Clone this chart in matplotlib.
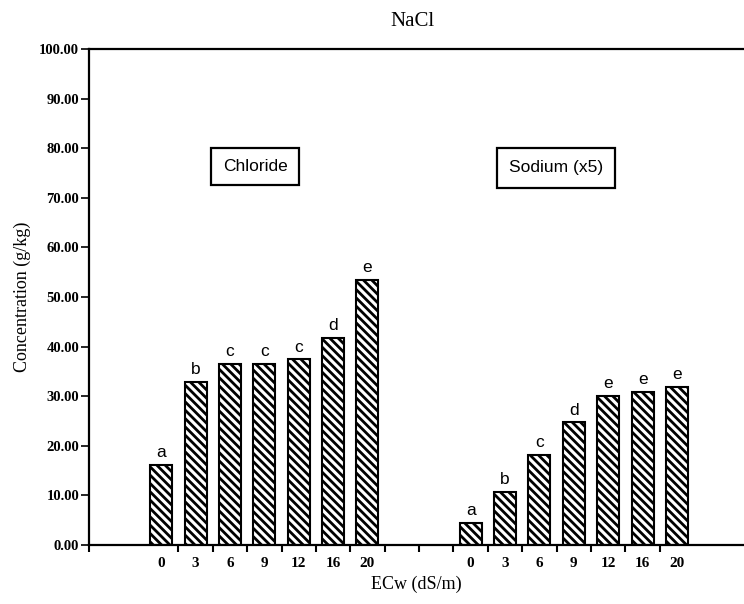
import numpy as np
import matplotlib.pyplot as plt

plt.rcParams['hatch.linewidth'] = 2.0

ecw = ['0', '3', '6', '9', '12', '16', '20']
chloride = [16.2, 32.8, 36.4, 36.4, 37.4, 41.8, 53.4]
chloride_grp = ['a', 'b', 'c', 'c', 'c', 'd', 'e']
sodium = [4.5, 10.6, 18.2, 24.7, 30.0, 30.9, 31.8]
sodium_grp = ['a', 'b', 'c', 'd', 'e', 'e', 'e']
yticks = [0, 10, 20, 30, 40, 50, 60, 70, 80, 90, 100]

x_cl = np.arange(len(ecw)) + 2.1
x_na = np.arange(len(ecw)) + 11.1

fig = plt.figure(figsize=(7.44, 6.04), dpi=100)
ax = fig.add_axes([0.1196, 0.0977, 0.8804, 0.8213])

ax.bar(x_cl, chloride, width=0.64, color='white', edgecolor='black',
       hatch='\\\\\\\\', linewidth=1.5)
ax.bar(x_na, sodium, width=0.64, color='white', edgecolor='black',
       hatch='\\\\\\\\', linewidth=1.5)

for x, v, g in zip(x_cl, chloride, chloride_grp):
    ax.text(x, v + 1.0, g, ha='center', va='bottom', fontsize=12.5,
            family='Liberation Sans')
for x, v, g in zip(x_na, sodium, sodium_grp):
    ax.text(x, v + 1.0, g, ha='center', va='bottom', fontsize=12.5,
            family='Liberation Sans')

ax.text(4.83, 76.3, 'Chloride', ha='center', va='center', fontsize=12.5,
        family='Liberation Sans',
        bbox=dict(boxstyle='square,pad=0.65', fc='white', ec='black', lw=1.6))
ax.text(13.58, 76.0, 'Sodium (x5)', ha='center', va='center', fontsize=12.5,
        family='Liberation Sans',
        bbox=dict(boxstyle='square,pad=0.7', fc='white', ec='black', lw=1.6))

ax.set_xlim(0, 19.05)
ax.set_ylim(0, 100)
ax.set_yticks(yticks)
ax.set_yticklabels(['%.2f' % t for t in yticks], fontsize=10.5,
                   family='Liberation Serif', fontweight='bold')

ax.set_xticks(np.concatenate([x_cl, x_na]))
ax.set_xticklabels(ecw + ecw, fontsize=11, family='Liberation Serif',
                   fontweight='bold')
ax.tick_params(axis='x', which='major', length=0, pad=9)
ax.set_xticks(np.concatenate([[0], x_cl + 0.5, [x_na[0] - 1.5], x_na - 0.5]),
              minor=True)
ax.tick_params(axis='x', which='minor', length=5, width=1.5, direction='out')
ax.tick_params(axis='y', length=6, width=1.2, direction='out', pad=1)

for s in ['left', 'bottom', 'top']:
    ax.spines[s].set_linewidth(1.6)
ax.spines['right'].set_visible(False)

ax.set_ylabel('Concentration (g/kg)', fontsize=13, family='Liberation Serif',
              labelpad=6)
ax.set_xlabel('ECw (dS/m)', fontsize=13, family='Liberation Serif',
              labelpad=4)
fig.text(0.555, 0.965, 'NaCl', ha='center', va='center', fontsize=15,
         family='Liberation Serif')

fig.savefig('out.png', dpi=100)
